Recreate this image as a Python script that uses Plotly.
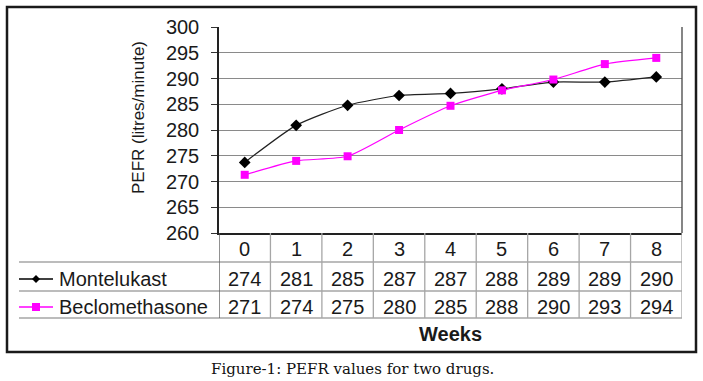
import plotly.graph_objects as go

weeks = [0, 1, 2, 3, 4, 5, 6, 7, 8]
week_labels = ["0", "1", "2", "3", "4", "5", "6", "7", "8"]
series_names = ["Montelukast", "Beclomethasone"]
# values as plotted
montelukast_plot = [273.7, 280.9, 284.8, 286.7, 287.1, 288.0, 289.3, 289.3, 290.3]
beclomethasone_plot = [271.3, 274.0, 274.9, 280.0, 284.7, 287.7, 289.8, 292.8, 294.0]
# values as printed in the data table
montelukast_table = [274, 281, 285, 287, 287, 288, 289, 289, 290]
beclomethasone_table = [271, 274, 275, 280, 285, 288, 290, 293, 294]

W, H = 703, 381
L, R, T, B = 219, 682, 27, 233
PW, PH = R - L, B - T


def px(x):
    return (x - L) / PW


def py(y):
    return (B - y) / PH


FONT = "Liberation Sans, Arial, sans-serif"
TXT = "#1a1a1a"
GRID = "#8a8a8a"
TBL = "#a6a6a6"
FS = 20

fig = go.Figure()
fig.add_trace(go.Scatter(
    x=weeks, y=montelukast_plot, name=series_names[0], mode="lines+markers",
    line=dict(color="#222222", width=1.2, shape="spline", smoothing=0.6),
    marker=dict(symbol="diamond", size=9, color="#000000"),
    cliponaxis=False,
))
fig.add_trace(go.Scatter(
    x=weeks, y=beclomethasone_plot, name=series_names[1], mode="lines+markers",
    line=dict(color="#ff00ff", width=1.2, shape="spline", smoothing=0.6),
    marker=dict(symbol="square", size=8, color="#ff00ff"),
    cliponaxis=False,
))

shapes = []
# outer frame
shapes.append(dict(type="rect", xref="paper", yref="paper",
                   x0=px(7), x1=px(696), y0=py(7), y1=py(352),
                   line=dict(color="#1a1a1a", width=2.5), layer="below"))
# plot right border
shapes.append(dict(type="line", xref="paper", yref="paper",
                   x0=1, x1=1, y0=0, y1=1, line=dict(color="#444444", width=1.3)))
# table horizontal lines
for yy in [262, 291, 318]:
    shapes.append(dict(type="line", xref="paper", yref="paper",
                       x0=px(19), x1=1, y0=py(yy), y1=py(yy),
                       line=dict(color=TBL, width=1.3)))
# table vertical lines (category boundaries)
for k in range(len(weeks) + 1):
    xb = k - 0.5
    shapes.append(dict(type="line", xref="x", yref="paper",
                       x0=xb, x1=xb, y0=0, y1=py(318),
                       line=dict(color="#555555" if k == 0 else TBL, width=1.3)))
# legend keys in table rows
key_rows = [(279, "#000000", "diamond"), (307, "#ff00ff", "square")]
for yy, col, sym in key_rows:
    shapes.append(dict(type="line", xref="paper", yref="paper",
                       x0=px(19), x1=px(53), y0=py(yy), y1=py(yy),
                       line=dict(color=col, width=1.3)))
    if sym == "diamond":
        path = "M -4,0 L 0,-4 L 4,0 L 0,4 Z"
    else:
        path = "M -4,-4 L 4,-4 L 4,4 L -4,4 Z"
    shapes.append(dict(type="path", xref="paper", yref="paper",
                       xsizemode="pixel", ysizemode="pixel",
                       xanchor=px(36), yanchor=py(yy), path=path,
                       fillcolor=col, line=dict(color=col, width=0)))

annotations = []
# header row: week numbers
for w, lab in zip(weeks, week_labels):
    annotations.append(dict(x=w, y=py(249), xref="x", yref="paper", text=lab,
                            xanchor="center", yanchor="middle",
                            showarrow=False, font=dict(family=FONT, size=FS, color=TXT)))
# value rows
for row_vals, yy in [(montelukast_table, 278.5), (beclomethasone_table, 306.5)]:
    for w, v in zip(weeks, row_vals):
        annotations.append(dict(x=w, y=py(yy), xref="x", yref="paper", text=str(v),
                                xanchor="center", yanchor="middle",
                                showarrow=False, font=dict(family=FONT, size=FS, color=TXT)))
# row labels
for name, yy in zip(series_names, [278.5, 306.5]):
    annotations.append(dict(x=px(57), y=py(yy), xref="paper", yref="paper", text=name,
                            xanchor="left", yanchor="middle", showarrow=False,
                            font=dict(family=FONT, size=FS, color=TXT)))
# x title
annotations.append(dict(x=4, y=py(334), xref="x", yref="paper", text="<b>Weeks</b>",
                        xanchor="center", yanchor="middle",
                        showarrow=False, font=dict(family=FONT, size=FS, color=TXT)))
# y title
annotations.append(dict(x=px(138), y=py(118), xref="paper", yref="paper",
                        text="PEFR (litres/minute)", textangle=-90, showarrow=False,
                        xanchor="center", yanchor="middle",
                        font=dict(family=FONT, size=17, color=TXT)))
# caption
annotations.append(dict(x=px(352), y=py(369), xref="paper", yref="paper",
                        text="Figure-1: PEFR values for two drugs.", showarrow=False,
                        xanchor="center", yanchor="middle",
                        font=dict(family="DejaVu Serif, Liberation Serif, serif", size=15, color="#111111")))

fig.update_layout(
    width=W, height=H,
    margin=dict(l=L, r=W - R, t=T, b=H - B, pad=0),
    paper_bgcolor="white", plot_bgcolor="white",
    showlegend=False,
    shapes=shapes, annotations=annotations,
    xaxis=dict(range=[-0.5, 8.5], showgrid=False, zeroline=False, showticklabels=False,
               ticks="", showline=True, linecolor="#222222", linewidth=1.5,
               fixedrange=True),
    yaxis=dict(range=[260, 300], dtick=5, showgrid=True, gridcolor=GRID, gridwidth=1.3,
               zeroline=False, ticks="outside", ticklen=6, tickcolor="#333333",
               showline=True, linecolor="#222222", linewidth=1.5,
               tickfont=dict(family=FONT, size=FS, color=TXT),
               ticklabelstandoff=8, fixedrange=True),
)

fig.write_html("out.html", config={"displayModeBar": False},
               post_script="document.body.style.margin='0px';document.body.style.padding='0px';")
